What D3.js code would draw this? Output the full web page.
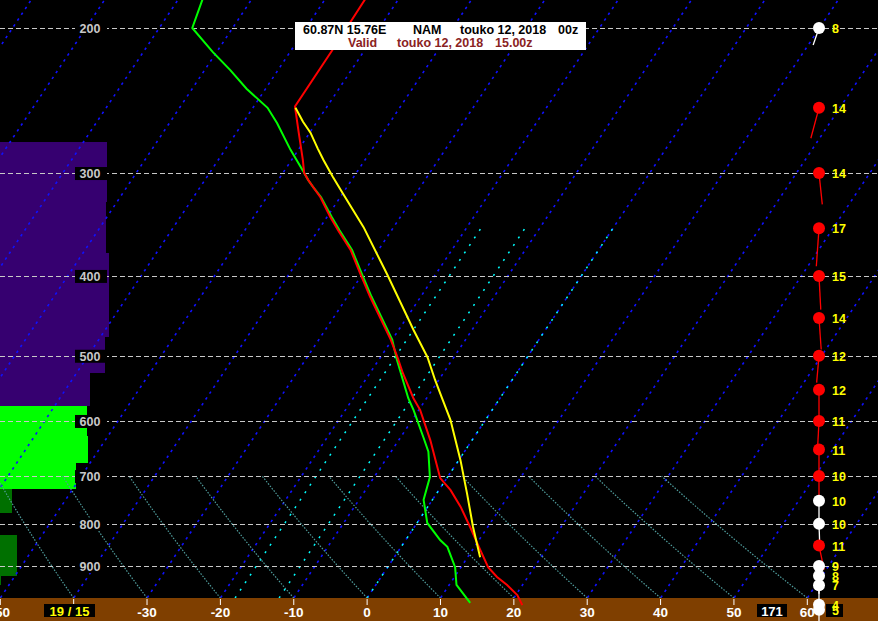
<!DOCTYPE html>
<html><head><meta charset="utf-8">
<script src="https://cdn.jsdelivr.net/npm/d3@7"></script>
<style>
html,body{margin:0;padding:0;background:#000;overflow:hidden}
svg{display:block}
text{font-family:"Liberation Sans",Arial,sans-serif;font-weight:bold}
</style></head><body>
<svg id="c" width="878" height="621"></svg>
<script>
// ---------------- data ----------------
const pressureTicks = [200,300,400,500,600,700,800,900];
const tempTicks = [-50,-40,-30,-20,-10,0,10,20,30,40,50,60];
const tempTickLabels = [-50,-30,-20,-10,0,10,20,30,40,50,60];
const isothermTemps = [-110,-100,-90,-80,-70,-60,-50,-40,-30,-20,-10,0,10,20,30,40,50,60];
const highlightIsotherms = [-18,-12,0];
const adiabatBaseTemps = [-50,-40,-30,-20,-10,0,10,20,30,40,50,60];

const tempP = [175,213,249,268,289,300,306,312,321,339,352,372,397,424,449,478,502,525,563,582,633,669,704,728,763,807,861,903,928,949,976,1004];
const tempT = [-54.6,-54.4,-54.4,-51.5,-48.5,-47.1,-45.9,-44.6,-42.7,-39.6,-37.3,-33.8,-30.4,-26.9,-23.7,-20.2,-17.7,-15.5,-11.8,-9.8,-5.7,-3.2,-0.9,1.6,4.5,7.6,11.1,13.7,15.8,17.9,20.2,21.8];

const dewP = [175,200,214,225,237,250,261,281,299,306,312,321,339,352,372,397,424,449,478,506,563,582,628,654,702,748,798,837,853,903,949,998];
const dewT = [-77.5,-75.5,-70.5,-66.5,-62.6,-58,-55.3,-51.1,-47.3,-45.9,-44.6,-42.6,-39.4,-37.1,-33.6,-30.2,-26.7,-23.5,-20.0,-17.5,-12.5,-10.7,-6.9,-4.9,-2.4,-1.2,1.4,4.7,6.3,9.2,11,14.5];

const parcelP = [250,260,268,280,289,303,317,349,399,465,502,535,563,598,669,734,807,878];
const parcelT = [-54.2,-51.9,-49.9,-47.5,-45.7,-42.9,-40.1,-34.1,-26.5,-18,-13.6,-10.5,-7.9,-4.8,0.2,4.1,8.0,11.7];

const cloudTop = [275,325,375,425,475,525,575,625,675,725,775,825,875,925];
const cloudBot = [325,375,425,475,525,575,625,675,725,775,825,875,925,950];
const cloudPct = [97,96,99,99,95,82,79,80,69,11,0,15,15,1];
const cloudKind = ["high","high","high","high","high","high","mid","mid","mid","low","low","low","low","low"];

const windP   = [200,250,300,350,400,450,500,550,600,650,700,750,800,850,900,925,950,1003,1017];
const windSpd = [8,14,14,17,15,14,12,12,11,11,10,10,10,11,9,8,7,4,5];
const windDir = [199,195,174,184,177,176,185,180,183,180,180,180,178,168,180,180,180,180,180];
const windKind = ["w","r","r","r","r","r","r","r","r","r","r","w","w","r","w","w","w","w","w"];

const titleLine1 = [["60.87N 15.76E",303],["NAM",413],["touko 12, 2018",460],["00z",558]];
const titleLine2 = [["Valid",348],["touko 12, 2018",397],["15.00z",495]];
const surfaceLabel = "19 / 15";
const extraLabel = "171";

// ---------------- scales ----------------
const W = 878, H = 621;
const svg = d3.select("#c");
const y = d3.scaleLog().domain([200, 900]).range([28, 566]);
const xBase = d3.scaleLinear().domain([-50, 60]).range([0.3, 807.3]);
const Y0 = 598, SKEW = 0.665;
const p0 = y.invert(Y0);
const px = (T, p) => xBase(T) + SKEW * (Y0 - y(p));
const cloudScale = d3.scaleLinear().domain([0, 100]).range([0, 110]);
const cloudColor = {high: "#360070", mid: "#00ff00", low: "#007000"};
const windColor = {w: "#ffffff", r: "#ff0000"};
const windLen = d3.scaleLinear().domain([0, 10]).range([0, 22.5]);

svg.append("rect").attr("width", W).attr("height", H).attr("fill", "#000");

// clouds
svg.append("g").attr("shape-rendering", "crispEdges")
  .selectAll("rect").data(cloudPct).join("rect")
  .attr("x", 0)
  .attr("y", (d, i) => Math.round(y(cloudTop[i])))
  .attr("width", d => cloudScale(d))
  .attr("height", (d, i) => Math.round(y(cloudBot[i])) - Math.round(y(cloudTop[i])))
  .attr("fill", (d, i) => cloudColor[cloudKind[i]]);

// isotherms
const pTopChart = y.invert(0), pBotChart = y.invert(H);
svg.append("g").selectAll("line").data(isothermTemps).join("line")
  .attr("x1", d => px(d, pBotChart)).attr("y1", H)
  .attr("x2", d => px(d, pTopChart)).attr("y2", 0)
  .attr("stroke", "#1010ff").attr("stroke-width", 1.6).attr("stroke-dasharray", "2.5,4.5");

// highlighted isotherms
svg.append("g").selectAll("line").data(highlightIsotherms).join("line")
  .attr("x1", d => px(d, p0)).attr("y1", Y0)
  .attr("x2", d => px(d, 350)).attr("y2", y(350))
  .attr("stroke", "#00ffff").attr("stroke-width", 1.5).attr("stroke-dasharray", "2,7");

// dry adiabats (bottom to 700 hPa)
const adiabatP = d3.range(p0, 700, -5).concat([700]);
const line = d3.line().x(d => d[0]).y(d => d[1]);
svg.append("g").selectAll("path").data(adiabatBaseTemps).join("path")
  .attr("d", T0 => line(adiabatP.map(p => {
    const T = (T0 + 273.15) * Math.pow(p / p0, 0.2857) - 273.15;
    return [px(T, p), y(p)];
  })))
  .attr("fill", "none").attr("stroke", "#4f9c9c").attr("stroke-width", 1.2).attr("stroke-dasharray", "1.5,1.5");

// isobars
svg.append("g").attr("shape-rendering", "crispEdges")
  .selectAll("line").data(pressureTicks).join("line")
  .attr("x1", 0).attr("x2", W)
  .attr("y1", d => Math.round(y(d)) + 0.5).attr("y2", d => Math.round(y(d)) + 0.5)
  .attr("stroke", "#c8c8c8").attr("stroke-width", 1).attr("stroke-dasharray", "5,3");

const plab = svg.append("g");
plab.selectAll("rect").data(pressureTicks).join("rect")
  .attr("x", 75).attr("y", d => y(d) - 6).attr("width", 32).attr("height", 13).attr("fill", "#000");
plab.selectAll("text").data(pressureTicks).join("text")
  .attr("x", 90).attr("y", d => y(d) + 5).attr("text-anchor", "middle")
  .attr("fill", "#c8c8c8").attr("font-size", "12.5px").text(d => d);

// bottom band
svg.append("rect").attr("x", 0).attr("y", 598).attr("width", W).attr("height", H - 598).attr("fill", "#7f3f00");
svg.append("g").selectAll("line").data(tempTicks).join("line")
  .attr("x1", d => xBase(d)).attr("x2", d => xBase(d)).attr("y1", 599).attr("y2", 605)
  .attr("stroke", "#fff").attr("stroke-width", 1);
svg.append("g").selectAll("text").data(tempTickLabels).join("text")
  .attr("x", d => xBase(d)).attr("y", 617).attr("text-anchor", "middle")
  .attr("fill", "#fff").attr("font-size", "13.5px").text(d => d);

// bottom boxes
svg.append("rect").attr("x", 44).attr("y", 604).attr("width", 51).attr("height", 13).attr("fill", "#000");
svg.append("text").attr("x", 69.5).attr("y", 615.5).attr("text-anchor", "middle")
  .attr("fill", "#ffff00").attr("font-size", "13px").text(surfaceLabel);
svg.append("rect").attr("x", 757).attr("y", 604).attr("width", 30).attr("height", 13).attr("fill", "#000");
svg.append("text").attr("x", 772).attr("y", 615.5).attr("text-anchor", "middle")
  .attr("fill", "#fff").attr("font-size", "13px").text(extraLabel);

// profiles
const profLine = d3.line().x(d => px(d[1], d[0])).y(d => y(d[0]));
svg.append("path").attr("d", profLine(dewP.map((p, i) => [p, dewT[i]])))
  .attr("fill", "none").attr("stroke", "#00ff00").attr("stroke-width", 2);
svg.append("path").attr("d", profLine(tempP.map((p, i) => [p, tempT[i]])))
  .attr("fill", "none").attr("stroke", "#ff0000").attr("stroke-width", 2);
svg.append("path").attr("d", profLine(parcelP.map((p, i) => [p, parcelT[i]])))
  .attr("fill", "none").attr("stroke", "#ffff00").attr("stroke-width", 2);

// title box
svg.append("rect").attr("x", 295).attr("y", 22).attr("width", 291).attr("height", 28).attr("fill", "#fff");
svg.append("g").selectAll("text").data(titleLine1).join("text")
  .attr("x", d => d[1]).attr("y", 34).attr("fill", "#000").attr("font-size", "12.5px").text(d => d[0]);
svg.append("g").selectAll("text").data(titleLine2).join("text")
  .attr("x", d => d[1]).attr("y", 47).attr("fill", "#8a2222").attr("font-size", "12.5px").text(d => d[0]);

// wind column
const WX = 819;
const wg = svg.append("g");
wg.selectAll("line").data(windP).join("line")
  .attr("x1", WX).attr("y1", d => y(d))
  .attr("x2", (d, i) => WX + Math.sin(windDir[i] * Math.PI / 180) * windLen(windSpd[i]))
  .attr("y2", (d, i) => y(d) - Math.cos(windDir[i] * Math.PI / 180) * windLen(windSpd[i]))
  .attr("stroke", (d, i) => windColor[windKind[i]]).attr("stroke-width", 1.3);
wg.selectAll("circle").data(windP).join("circle")
  .attr("cx", WX).attr("cy", d => y(d)).attr("r", 6)
  .attr("fill", (d, i) => windColor[windKind[i]]);
wg.append("rect").attr("x", 826).attr("y", 604).attr("width", 17).attr("height", 13).attr("fill", "#000");
wg.selectAll("text").data(windP).join("text")
  .attr("x", 832).attr("y", d => y(d) + 5)
  .attr("fill", "#ffff00").attr("font-size", "12.5px").text((d, i) => windSpd[i]);
</script>
</body></html>
